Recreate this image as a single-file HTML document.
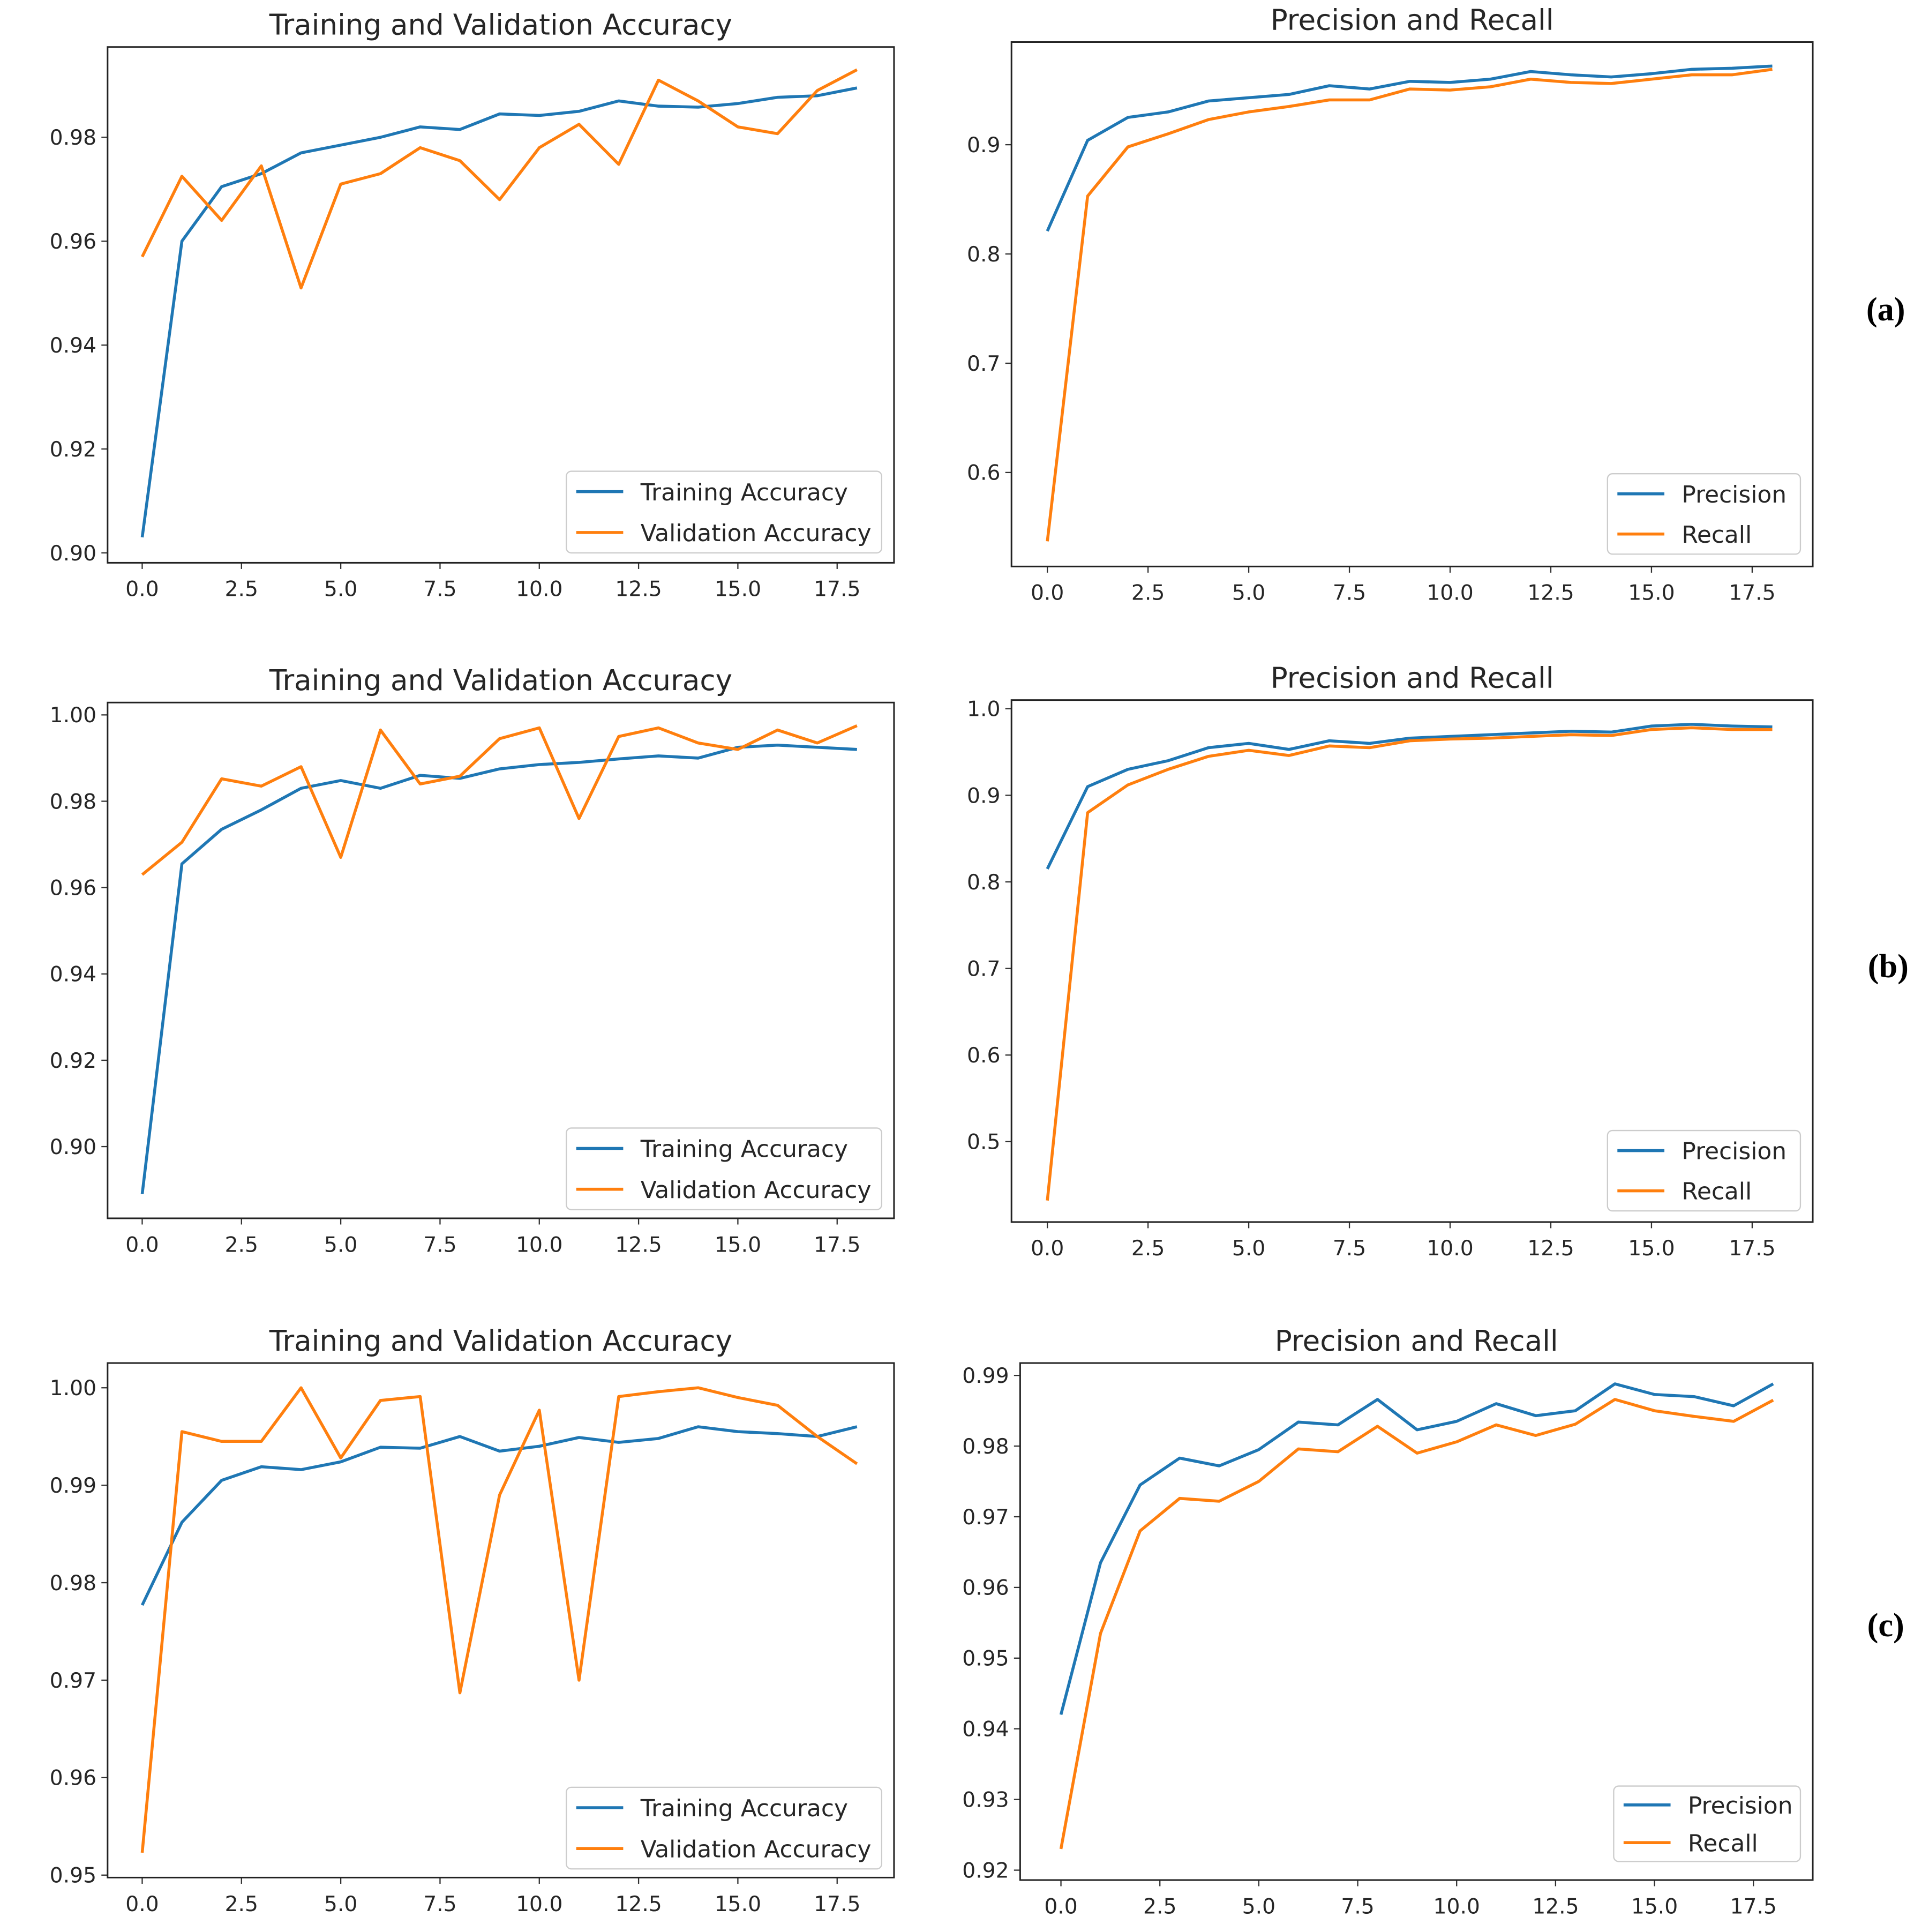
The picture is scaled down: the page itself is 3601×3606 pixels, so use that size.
<!DOCTYPE html>
<html><head><meta charset="utf-8"><style>
html,body{margin:0;padding:0;background:#fff;}
svg{display:block;}
text{font-family:"DejaVu Sans","Liberation Sans",sans-serif;fill:#262626;}
</style></head><body>
<svg id="fig" width="3601" height="3606" viewBox="0 0 1560 1562" preserveAspectRatio="none" xmlns="http://www.w3.org/2000/svg">
<rect width="1560" height="1562" fill="#fff"/>
<text x="1525" y="259" text-anchor="middle" font-size="27" style="font-family:'Liberation Serif',serif;font-weight:bold;fill:#000">(a)</text>
<text x="1527" y="790" text-anchor="middle" font-size="27" style="font-family:'Liberation Serif',serif;font-weight:bold;fill:#000">(b)</text>
<text x="1525" y="1323" text-anchor="middle" font-size="27" style="font-family:'Liberation Serif',serif;font-weight:bold;fill:#000">(c)</text>
</svg>
<script>
const epochs=[0,1,2,3,4,5,6,7,8,9,10,11,12,13,14,15,16,17,18];
const xTicks=[0,2.5,5,7.5,10,12.5,15,17.5];
const xTickLabels=["0.0","2.5","5.0","7.5","10.0","12.5","15.0","17.5"];
const aTrain=[0.903,0.960,0.9705,0.973,0.977,0.9785,0.980,0.982,0.9815,0.9845,0.9842,0.985,0.987,0.986,0.9858,0.9865,0.9877,0.988,0.9895];
const aVal=[0.957,0.9725,0.964,0.9745,0.951,0.971,0.973,0.978,0.9755,0.968,0.978,0.9825,0.9748,0.991,0.987,0.982,0.9807,0.989,0.993];
const aPrec=[0.821,0.904,0.925,0.93,0.94,0.943,0.946,0.954,0.951,0.958,0.957,0.96,0.967,0.964,0.962,0.965,0.969,0.970,0.972];
const aRec=[0.537,0.853,0.898,0.91,0.923,0.93,0.935,0.941,0.941,0.951,0.950,0.953,0.96,0.957,0.956,0.96,0.964,0.964,0.969];
const bTrain=[0.889,0.9655,0.9735,0.978,0.983,0.9848,0.983,0.986,0.9853,0.9875,0.9885,0.989,0.9898,0.9905,0.990,0.9925,0.993,0.9925,0.992];
const bVal=[0.963,0.9705,0.9852,0.9835,0.988,0.967,0.9965,0.984,0.9858,0.9945,0.997,0.976,0.995,0.997,0.9935,0.992,0.9965,0.9935,0.9975];
const bPrec=[0.815,0.91,0.93,0.94,0.955,0.96,0.953,0.963,0.96,0.966,0.968,0.97,0.972,0.974,0.973,0.98,0.982,0.98,0.979];
const bRec=[0.432,0.88,0.912,0.93,0.945,0.952,0.946,0.957,0.955,0.963,0.965,0.966,0.968,0.97,0.969,0.976,0.978,0.976,0.976];
const cTrain=[0.9777,0.9862,0.9905,0.9919,0.9916,0.9924,0.9939,0.9938,0.995,0.9935,0.994,0.9949,0.9944,0.9948,0.996,0.9955,0.9953,0.995,0.996];
const cVal=[0.9523,0.9955,0.9945,0.9945,1.0,0.9928,0.9987,0.9991,0.9687,0.989,0.9977,0.970,0.9991,0.9996,1.0,0.999,0.9982,0.995,0.9922];
const cPrec=[0.942,0.9635,0.9745,0.9783,0.9772,0.9795,0.9834,0.983,0.9866,0.9823,0.9835,0.986,0.9843,0.985,0.9888,0.9873,0.987,0.9857,0.9888];
const cRec=[0.923,0.9535,0.968,0.9726,0.9722,0.975,0.9796,0.9792,0.9828,0.979,0.9806,0.983,0.9815,0.9831,0.9866,0.985,0.9842,0.9835,0.9865];
const aLeftY=[0.90,0.92,0.94,0.96,0.98];
const aRightY=[0.6,0.7,0.8,0.9];
const bLeftY=[0.90,0.92,0.94,0.96,0.98,1.00];
const bRightY=[0.5,0.6,0.7,0.8,0.9,1.0];
const cLeftY=[0.95,0.96,0.97,0.98,0.99,1.00];
const cRightY=[0.92,0.93,0.94,0.95,0.96,0.97,0.98,0.99];

const NS="http://www.w3.org/2000/svg";
const svg=document.getElementById('fig');
function mk(tag,attrs,parent){const e=document.createElementNS(NS,tag);for(const k in attrs)e.setAttribute(k,attrs[k]);(parent||svg).appendChild(e);return e;}

function panel(o){
  const g=mk('g',{});
  
  
  const xs=v=>o.x0+(v-0)*(o.x175-o.x0)/17.5;
  const ys=v=>o.yA+(v-o.vA)*(o.yB-o.yA)/(o.vB-o.vA);
  const t=mk('text',{x:(o.L+o.R)/2,y:o.T-10,'text-anchor':'middle','font-size':23},g);
  t.textContent=o.title;
  
  
  o.yt.forEach((v,i)=>{
    const y=ys(v);
    mk('line',{x1:o.L-5,x2:o.L,y1:y,y2:y,stroke:'#333','stroke-width':1},g);
    const l=mk('text',{x:o.L-9,y:y+6,'text-anchor':'end','font-size':17},g);
    l.textContent=o.yl[i];
    
    
  });
  xTicks.forEach((v,i)=>{
    const x=xs(v);
    mk('line',{x1:x,x2:x,y1:o.B,y2:o.B+5,stroke:'#333','stroke-width':1},g);
    const l=mk('text',{x:x,y:o.B+27,'text-anchor':'middle','font-size':17},g);
    l.textContent=xTickLabels[i];
    
    
  });
  o.series.forEach(s=>{
    const p=mk('polyline',{points:epochs.map((e,i)=>xs(e)+','+ys(s.d[i])).join(' '),fill:'none',stroke:s.c,'stroke-width':2.4,'stroke-linejoin':'round'},g);
    
    
  });
  mk('rect',{x:o.L,y:o.T,width:o.R-o.L,height:o.B-o.T,fill:'none',stroke:'#222','stroke-width':1.3},g);
  const lg=mk('g',{},g);
  
  
  const [lx,ly,lw,lh]=o.leg;
  mk('rect',{x:lx,y:ly,width:lw,height:lh,rx:4,fill:'#fff','fill-opacity':0.85,stroke:'#ccc','stroke-width':1},lg);
  o.series.forEach((s,i)=>{
    const yy=ly+lh*(0.25+0.5*i)+1;
    mk('line',{x1:lx+8,x2:lx+46,y1:yy-1,y2:yy-1,stroke:s.c,'stroke-width':2.4},lg);
    const tx=mk('text',{x:lx+60,y:yy+6,'font-size':19},lg);
    tx.textContent=s.label;
    
    
  });
}
const B='#1f77b4',O='#ff7f0e';
const f2=a=>a.map(v=>v.toFixed(2)), f1=a=>a.map(v=>v.toFixed(1));
panel({name:'panel-a-accuracy',title:'Training and Validation Accuracy',L:87,R:723,T:38,B:455,x0:115,x175:677,vA:0.98,yA:111,vB:0.90,yB:447,yt:aLeftY,yl:f2(aLeftY),leg:[458,381,255,66],
  series:[{d:aTrain,n:'line-training-accuracy',label:'Training Accuracy',c:B},{d:aVal,n:'line-validation-accuracy',label:'Validation Accuracy',c:O}]});
panel({name:'panel-a-precision-recall',title:'Precision and Recall',L:818,R:1466,T:34,B:458,x0:847,x175:1417,vA:0.9,yA:117,vB:0.6,yB:382,yt:aRightY,yl:f1(aRightY),leg:[1300,383,156,65],
  series:[{d:aPrec,n:'line-precision',label:'Precision',c:B},{d:aRec,n:'line-recall',label:'Recall',c:O}]});
panel({name:'panel-b-accuracy',title:'Training and Validation Accuracy',L:87,R:723,T:568,B:985,x0:115,x175:677,vA:1.0,yA:578,vB:0.90,yB:927,yt:bLeftY,yl:f2(bLeftY),leg:[458,912,255,66],
  series:[{d:bTrain,n:'line-training-accuracy',label:'Training Accuracy',c:B},{d:bVal,n:'line-validation-accuracy',label:'Validation Accuracy',c:O}]});
panel({name:'panel-b-precision-recall',title:'Precision and Recall',L:818,R:1466,T:566,B:988,x0:847,x175:1417,vA:1.0,yA:573,vB:0.5,yB:923,yt:bRightY,yl:f1(bRightY),leg:[1300,914,156,65],
  series:[{d:bPrec,n:'line-precision',label:'Precision',c:B},{d:bRec,n:'line-recall',label:'Recall',c:O}]});
panel({name:'panel-c-accuracy',title:'Training and Validation Accuracy',L:87,R:723,T:1102,B:1518,x0:115,x175:677,vA:1.0,yA:1122,vB:0.95,yB:1516,yt:cLeftY,yl:f2(cLeftY),leg:[458,1445,255,66],
  series:[{d:cTrain,n:'line-training-accuracy',label:'Training Accuracy',c:B},{d:cVal,n:'line-validation-accuracy',label:'Validation Accuracy',c:O}]});
panel({name:'panel-c-precision-recall',title:'Precision and Recall',L:825,R:1466,T:1102,B:1520,x0:858,x175:1418,vA:0.99,yA:1112,vB:0.92,yB:1512,yt:cRightY,yl:f2(cRightY),leg:[1305,1444,151,61],
  series:[{d:cPrec,n:'line-precision',label:'Precision',c:B},{d:cRec,n:'line-recall',label:'Recall',c:O}]});
</script>
</body></html>
